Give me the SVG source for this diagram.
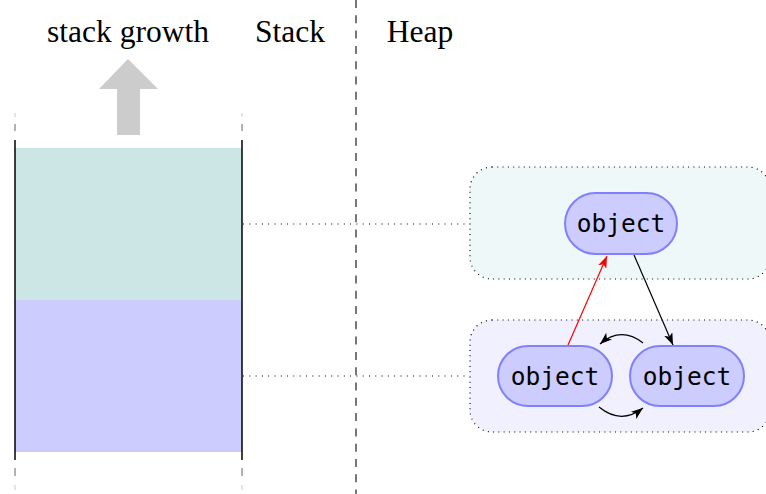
<svg xmlns="http://www.w3.org/2000/svg" width="766" height="494" viewBox="0 0 766 494">
  <style>
    .label { font-family: "Liberation Serif", "Times New Roman", serif; font-size: 31.5px; fill: #000; text-anchor: middle; }
    .obj rect { fill: #ccccff; stroke: #8080ff; stroke-width: 2; }
    .obj text { font-family: "DejaVu Sans Mono", monospace; font-size: 24.5px; fill: #000; text-anchor: middle; }
    .dotted { stroke: #000; stroke-width: 1.2; stroke-dasharray: 1 5.3; fill: none; }
    .region { stroke: #000; stroke-width: 1.2; stroke-dasharray: 1 4.3; }
    .edge { fill: none; stroke-width: 1.2; }
  </style>
  <defs>
    <marker id="tipBlack" viewBox="0 0 12 9" refX="12" refY="4.5" markerWidth="12" markerHeight="9" markerUnits="userSpaceOnUse" orient="auto">
      <path d="M0,0 L12,4.5 L0,9 L3,4.5 Z" fill="#000"/>
    </marker>
    <marker id="tipRed" viewBox="0 0 12 9" refX="12" refY="4.5" markerWidth="12" markerHeight="9" markerUnits="userSpaceOnUse" orient="auto">
      <path d="M0,0 L12,4.5 L0,9 L3,4.5 Z" fill="#ff0000"/>
    </marker>
  </defs>

  <!-- column headings -->
  <text class="label" x="128" y="42">stack growth</text>
  <text class="label" x="290" y="42">Stack</text>
  <text class="label" x="420" y="42">Heap</text>

  <!-- stack / heap divider -->
  <line x1="356" y1="0" x2="356" y2="494" stroke="#777" stroke-width="2" stroke-dasharray="8 7.3"/>

  <!-- growth arrow -->
  <path d="M117,135 L140,135 L140,89 L158,89 L128,59 L99,89 L117,89 Z" fill="#cccccc"/>

  <!-- stack frames -->
  <g id="stack">
    <rect x="15" y="148" width="227" height="152" fill="#cce5e5"/>
    <rect x="15" y="300" width="227" height="152" fill="#ccccff"/>
    <line x1="15" y1="140" x2="15" y2="460" stroke="#000" stroke-width="1.5"/>
    <line x1="242" y1="140" x2="242" y2="460" stroke="#000" stroke-width="1.5"/>
    <g stroke-width="1.5">
      <line x1="15" y1="113" x2="15" y2="117" stroke="#ddd"/>
      <line x1="15" y1="124" x2="15" y2="131" stroke="#999"/>
      <line x1="15" y1="468" x2="15" y2="476" stroke="#999"/>
      <line x1="15" y1="485" x2="15" y2="490" stroke="#ddd"/>
      <line x1="242" y1="113" x2="242" y2="117" stroke="#ddd"/>
      <line x1="242" y1="124" x2="242" y2="131" stroke="#999"/>
      <line x1="242" y1="468" x2="242" y2="476" stroke="#999"/>
      <line x1="242" y1="485" x2="242" y2="490" stroke="#ddd"/>
    </g>
  </g>

  <!-- heap regions -->
  <g id="heap-region-1">
    <rect class="region" x="470" y="167" width="300" height="112" rx="22" fill="#eff8f8"/>
  </g>
  <g id="heap-region-2">
    <rect class="region" x="470" y="320" width="300" height="112" rx="22" fill="#f0f0fe"/>
  </g>

  <!-- frame-to-region references and edges -->
  <g id="connectors">
    <line class="dotted" x1="243" y1="224" x2="470" y2="224"/>
    <line class="dotted" x1="243" y1="376" x2="470" y2="376"/>
    <line class="edge" x1="568" y1="345" x2="607" y2="256" stroke="#ff0000" marker-end="url(#tipRed)"/>
    <line class="edge" x1="634" y1="255" x2="673" y2="345" stroke="#000" marker-end="url(#tipBlack)"/>
    <path class="edge" d="M643,343 Q621,326 600,344" stroke="#000" marker-end="url(#tipBlack)"/>
    <path class="edge" d="M599,407 Q621,425 643,408" stroke="#000" marker-end="url(#tipBlack)"/>
  </g>

  <!-- heap objects -->
  <g id="obj-top" class="obj">
    <rect x="565" y="193" width="112" height="61" rx="30.5"/>
    <text x="621" y="232">object</text>
  </g>
  <g id="obj-left" class="obj">
    <rect x="498" y="346" width="114" height="60" rx="30"/>
    <text x="555" y="385">object</text>
  </g>
  <g id="obj-right" class="obj">
    <rect x="630" y="346" width="114" height="60" rx="30"/>
    <text x="687" y="385">object</text>
  </g>
</svg>
